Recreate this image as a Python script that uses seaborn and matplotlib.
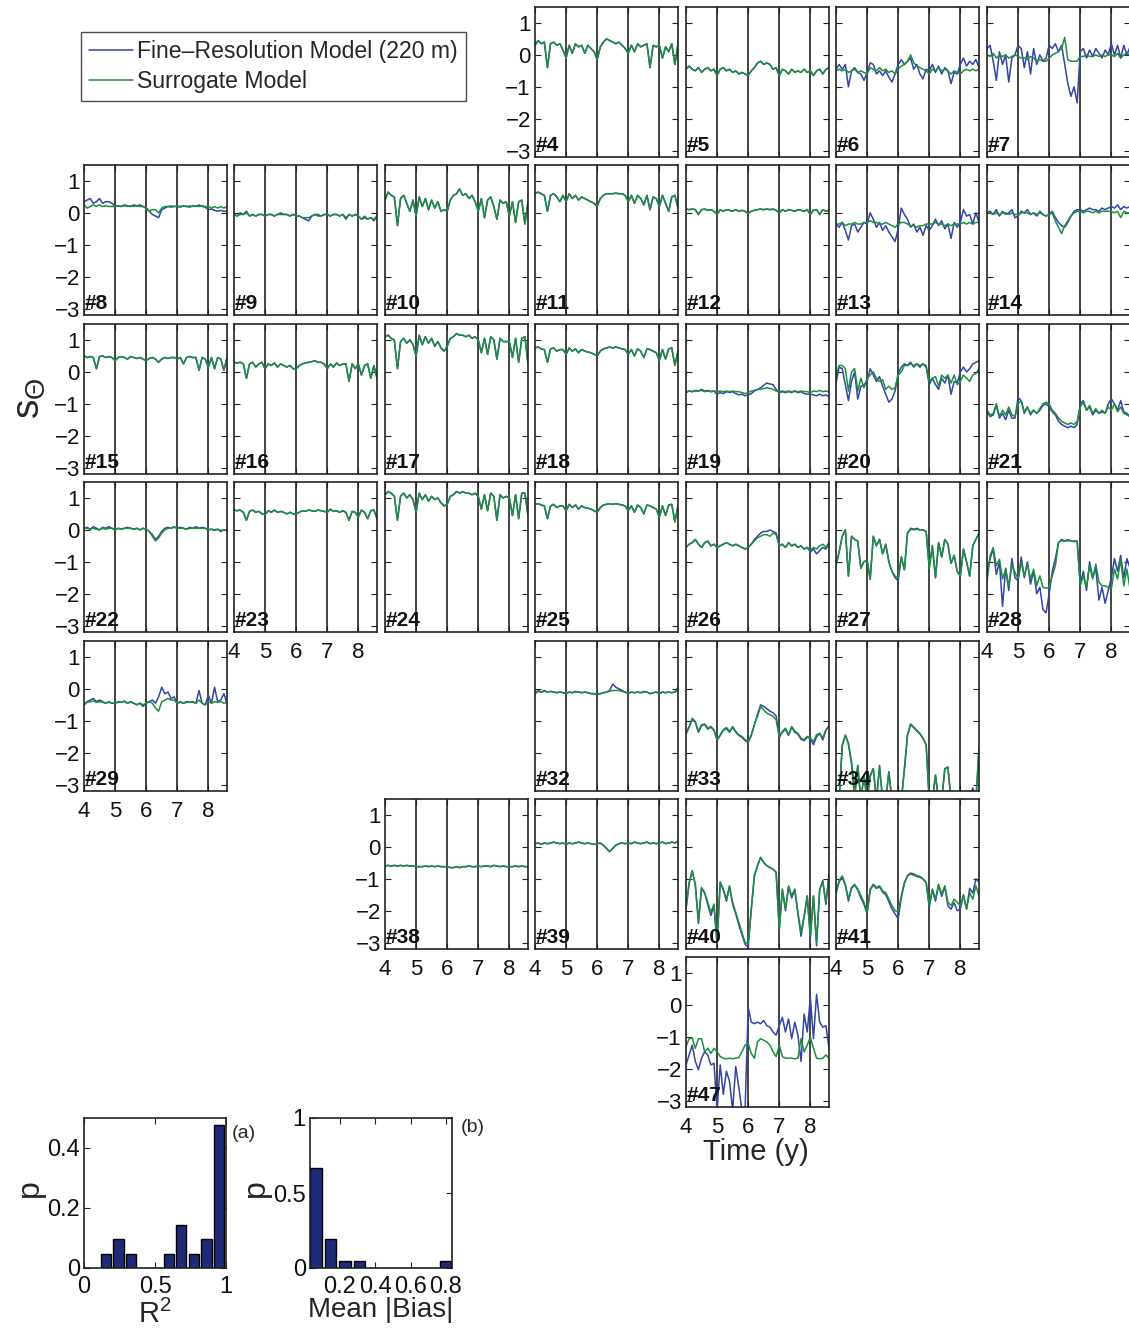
import matplotlib
matplotlib.use('Agg')
import matplotlib.pyplot as plt
import seaborn as sns
from matplotlib.lines import Line2D

# ---------------- data ----------------
T = [4.0, 4.1, 4.2, 4.3, 4.4, 4.5, 4.6, 4.7, 4.8, 4.9,
     5.0, 5.1, 5.2, 5.3, 5.4, 5.5, 5.6, 5.7, 5.8, 5.9,
     6.0, 6.1, 6.2, 6.3, 6.4, 6.5, 6.6, 6.7, 6.8, 6.9,
     7.0, 7.1, 7.2, 7.3, 7.4, 7.5, 7.6, 7.7, 7.8, 7.9,
     8.0, 8.1, 8.2, 8.3, 8.4, 8.5, 8.6]

FINE_04 = [0.30, 0.45, 0.35, 0.40, -0.40, 0.35, 0.40, 0.30, 0.35, 0.15,
           -0.10, 0.30, 0.05, 0.35, 0.25, 0.30, 0.05, 0.30, 0.20, 0.10,
           -0.15, 0.25, 0.40, 0.50, 0.45, 0.40, 0.35, 0.40, 0.30, 0.20,
           0.05, 0.30, 0.10, 0.35, 0.25, 0.30, 0.35, -0.40, 0.30, 0.25,
           0.30, -0.10, 0.25, 0.10, 0.35, -0.30, 0.35]
SURR_04 = FINE_04

FINE_05 = [-0.45, -0.35, -0.45, -0.50, -0.40, -0.55, -0.45, -0.40, -0.50, -0.45,
           -0.65, -0.45, -0.40, -0.50, -0.45, -0.55, -0.50, -0.60, -0.55, -0.60,
           -0.65, -0.50, -0.40, -0.25, -0.20, -0.30, -0.25, -0.30, -0.45, -0.40,
           -0.65, -0.45, -0.50, -0.60, -0.45, -0.55, -0.50, -0.55, -0.45, -0.55,
           -0.50, -0.65, -0.50, -0.45, -0.60, -0.45, -0.40]
SURR_05 = FINE_05

FINE_06 = [-0.45, -0.30, -0.45, -0.30, -1.00, -0.50, -0.40, -0.55, -0.60, -0.80,
           -0.55, -0.25, -0.30, -0.60, -0.50, -0.65, -0.50, -0.70, -0.85, -0.60,
           -0.30, -0.15, -0.30, -0.20, -0.10, -0.45, -0.30, -0.60, -0.75, -0.45,
           -0.50, -0.30, -0.55, -0.35, -0.60, -0.40, -0.50, -0.90, -0.55, -0.60,
           -0.30, -0.10, -0.35, -0.20, -0.30, -0.15, -0.40]
SURR_06 = [-0.50, -0.45, -0.50, -0.45, -0.55, -0.50, -0.45, -0.55, -0.50, -0.55,
           -0.60, -0.40, -0.45, -0.50, -0.40, -0.50, -0.45, -0.55, -0.50, -0.60,
           -0.45, -0.35, -0.30, -0.20, 0.00, -0.25, -0.35, -0.40, -0.45, -0.50,
           -0.60, -0.45, -0.50, -0.40, -0.50, -0.45, -0.50, -0.60, -0.50, -0.55,
           -0.60, -0.50, -0.45, -0.50, -0.45, -0.50, -0.45]

FINE_07 = [0.20, 0.30, -0.20, -0.80, 0.10, -0.30, 0.00, -0.85, -0.10, 0.00,
           0.30, 0.20, -0.40, 0.10, -0.60, 0.20, -0.30, 0.00, -0.20, -0.10,
           0.30, 0.20, 0.35, 0.10, 0.30, -0.30, -0.90, -1.30, -1.00, -1.50,
           0.10, 0.20, -0.10, 0.15, -0.05, 0.20, 0.05, -0.10, 0.15, 0.00,
           0.35, 0.00, 0.30, -0.10, 0.30, 0.00, 0.25]
SURR_07 = [0.00, -0.05, 0.05, -0.10, 0.00, -0.05, 0.00, -0.10, -0.05, 0.00,
           -0.05, -0.10, -0.10, -0.15, -0.05, -0.10, -0.20, -0.15, -0.20, -0.20,
           -0.10, 0.00, 0.05, 0.10, 0.20, 0.55, -0.15, -0.20, -0.20, -0.20,
           -0.05, -0.05, 0.00, -0.05, -0.05, 0.00, -0.05, 0.00, -0.05, 0.00,
           0.00, -0.05, 0.05, -0.10, 0.00, 0.05, 0.00]

FINE_08 = [0.35, 0.40, 0.45, 0.30, 0.35, 0.45, 0.30, 0.35, 0.35, 0.30,
           0.20, 0.22, 0.20, 0.25, 0.22, 0.20, 0.25, 0.22, 0.25, 0.20,
           0.15, 0.05, -0.05, -0.10, -0.15, 0.10, 0.15, 0.20, 0.18, 0.20,
           0.20, 0.18, 0.22, 0.20, 0.18, 0.22, 0.20, 0.25, 0.20, 0.18,
           0.10, 0.12, 0.08, 0.05, 0.08, 0.05, 0.05]
SURR_08 = [0.25, 0.15, 0.20, 0.25, 0.20, 0.25, 0.20, 0.22, 0.20, 0.20,
           0.20, 0.22, 0.20, 0.22, 0.20, 0.22, 0.20, 0.22, 0.20, 0.20,
           0.15, 0.05, 0.10, 0.10, 0.00, 0.15, 0.20, 0.20, 0.22, 0.20,
           0.22, 0.20, 0.22, 0.20, 0.22, 0.20, 0.22, 0.20, 0.22, 0.20,
           0.20, 0.15, 0.20, 0.15, 0.20, 0.15, 0.20]

FINE_09 = [-0.05, -0.10, 0.00, -0.05, 0.05, -0.10, -0.05, -0.10, -0.05, -0.05,
           -0.10, -0.05, -0.05, -0.10, -0.05, 0.00, -0.05, -0.05, -0.10, -0.05,
           -0.10, -0.10, -0.15, -0.20, -0.25, -0.10, -0.05, -0.05, -0.10, -0.05,
           -0.05, -0.10, -0.05, -0.05, -0.10, -0.05, -0.20, -0.05, -0.10, -0.05,
           -0.10, -0.20, -0.15, -0.20, -0.15, -0.25, -0.10]
SURR_09 = [-0.05, -0.10, -0.05, -0.05, 0.00, -0.10, -0.05, -0.10, -0.05, -0.05,
           -0.10, -0.05, -0.05, -0.10, -0.05, -0.05, -0.05, -0.05, -0.10, -0.05,
           -0.10, -0.10, -0.15, -0.15, -0.15, -0.10, -0.05, -0.10, -0.10, -0.05,
           -0.05, -0.10, -0.05, -0.05, -0.10, -0.05, -0.15, -0.05, -0.10, -0.05,
           -0.10, -0.20, -0.10, -0.20, -0.15, -0.20, -0.10]

FINE_10 = [0.40, 0.65, 0.55, 0.50, -0.40, 0.45, 0.55, 0.30, 0.05, 0.40,
           -0.10, 0.50, 0.20, 0.45, 0.10, 0.40, 0.15, 0.35, 0.05, 0.10,
           0.05, 0.40, 0.55, 0.60, 0.75, 0.55, 0.60, 0.45, 0.55, 0.35,
           0.05, 0.45, -0.15, 0.40, 0.50, 0.20, -0.20, 0.40, 0.30, 0.35,
           -0.10, 0.35, -0.30, 0.35, 0.40, -0.35, 0.35]
SURR_10 = FINE_10

FINE_11 = [0.60, 0.65, 0.60, 0.55, 0.05, 0.55, 0.60, 0.50, 0.35, 0.55,
           0.35, 0.60, 0.45, 0.55, 0.40, 0.50, 0.45, 0.40, 0.35, 0.30,
           0.20, 0.45, 0.55, 0.60, 0.60, 0.60, 0.62, 0.60, 0.60, 0.55,
           0.35, 0.55, 0.30, 0.55, 0.45, 0.25, 0.55, 0.10, 0.50, 0.45,
           0.20, 0.55, 0.30, 0.05, 0.50, 0.55, 0.15]
SURR_11 = FINE_11

FINE_12 = [0.12, 0.10, 0.12, 0.10, -0.05, 0.10, 0.12, 0.08, 0.10, 0.05,
           -0.05, 0.10, 0.05, 0.10, 0.08, 0.05, 0.10, 0.05, 0.08, 0.05,
           -0.02, 0.05, 0.08, 0.10, 0.12, 0.10, 0.12, 0.10, 0.12, 0.08,
           0.00, 0.10, 0.05, 0.10, 0.08, 0.05, 0.10, 0.08, 0.05, 0.10,
           -0.05, 0.08, 0.10, -0.05, 0.10, 0.05, 0.08]
SURR_12 = FINE_12

FINE_13 = [-0.35, -0.45, -0.30, -0.55, -0.85, -0.40, -0.35, -0.60, -0.45, -0.30,
           -0.35, 0.00, -0.20, -0.45, -0.30, -0.55, -0.40, -0.60, -0.75, -0.90,
           -0.50, 0.15, -0.05, -0.20, -0.45, -0.35, -0.60, -0.45, -0.70, -0.40,
           -0.55, -0.40, -0.20, -0.40, -0.25, -0.50, -0.35, -0.80, -0.30, -0.45,
           -0.30, 0.10, -0.10, -0.05, -0.35, 0.00, -0.30]
SURR_13 = [-0.35, -0.35, -0.30, -0.40, -0.35, -0.35, -0.30, -0.35, -0.35, -0.30,
           -0.30, -0.25, -0.30, -0.30, -0.35, -0.35, -0.30, -0.35, -0.40, -0.45,
           -0.35, -0.30, -0.30, -0.35, -0.40, -0.40, -0.45, -0.40, -0.40, -0.35,
           -0.35, -0.35, -0.30, -0.35, -0.35, -0.40, -0.35, -0.40, -0.35, -0.35,
           -0.35, -0.30, -0.35, -0.30, -0.35, -0.30, -0.30]

FINE_14 = [0.00, 0.05, -0.05, 0.10, -0.10, 0.05, -0.05, 0.00, 0.10, -0.15,
           -0.10, 0.05, 0.00, 0.10, -0.05, 0.00, -0.10, 0.05, -0.05, -0.10,
           -0.05, 0.05, -0.15, -0.30, -0.40, -0.45, -0.30, -0.10, 0.05, 0.10,
           0.10, 0.05, 0.10, 0.15, 0.10, 0.10, 0.05, 0.15, 0.10, 0.15,
           0.20, 0.15, 0.25, 0.10, 0.20, 0.15, 0.20]
SURR_14 = [0.00, 0.00, -0.05, 0.00, -0.05, 0.00, 0.00, -0.05, 0.00, -0.05,
           -0.05, 0.00, 0.00, 0.00, -0.05, 0.00, -0.05, 0.00, -0.05, -0.10,
           -0.05, 0.00, -0.25, -0.45, -0.65, -0.40, -0.25, -0.10, 0.00, 0.05,
           0.05, 0.00, 0.05, 0.05, 0.00, 0.05, 0.00, 0.05, 0.05, 0.05,
           0.05, 0.00, 0.05, -0.15, 0.05, 0.00, 0.00]

FINE_15 = [0.50, 0.45, 0.48, 0.45, 0.10, 0.48, 0.50, 0.45, 0.48, 0.45,
           0.35, 0.45, 0.48, 0.45, 0.40, 0.48, 0.45, 0.42, 0.45, 0.40,
           0.35, 0.42, 0.45, 0.40, 0.30, 0.40, 0.45, 0.42, 0.45, 0.45,
           0.40, 0.45, 0.25, 0.45, 0.48, 0.45, 0.45, 0.05, 0.45, 0.40,
           0.15, 0.45, 0.10, 0.45, 0.40, 0.05, 0.45]
SURR_15 = FINE_15

FINE_16 = [0.30, 0.28, 0.30, 0.25, -0.20, 0.25, 0.30, 0.15, 0.25, 0.30,
           0.10, 0.25, 0.20, 0.28, 0.15, 0.25, 0.20, 0.15, 0.20, 0.10,
           0.10, 0.20, 0.25, 0.28, 0.30, 0.32, 0.35, 0.30, 0.30, 0.25,
           0.10, 0.25, 0.15, 0.28, 0.20, 0.25, 0.25, -0.30, 0.25, 0.10,
           0.25, -0.10, 0.20, 0.25, -0.20, 0.20, -0.20]
SURR_16 = FINE_16

FINE_17 = [1.10, 1.15, 1.05, 1.00, 0.10, 0.95, 1.05, 0.90, 1.00, 0.85,
           0.50, 1.15, 0.85, 1.10, 0.90, 1.05, 0.80, 0.95, 0.75, 0.65,
           0.80, 1.05, 1.10, 1.20, 1.15, 1.15, 1.10, 1.15, 1.05, 1.10,
           1.00, 0.60, 1.05, 0.55, 1.10, 1.00, 0.40, 1.05, 0.95, 0.95,
           0.95, 0.45, 1.05, 0.30, 1.05, 1.10, 0.25]
SURR_17 = FINE_17

FINE_18 = [0.75, 0.78, 0.72, 0.70, 0.30, 0.72, 0.75, 0.65, 0.70, 0.70,
           0.55, 0.75, 0.65, 0.72, 0.60, 0.70, 0.65, 0.62, 0.60, 0.55,
           0.50, 0.65, 0.72, 0.75, 0.78, 0.75, 0.78, 0.75, 0.72, 0.70,
           0.55, 0.70, 0.50, 0.72, 0.65, 0.45, 0.72, 0.70, 0.65, 0.60,
           0.35, 0.70, 0.40, 0.72, 0.75, 0.20, 0.65]
SURR_18 = FINE_18

FINE_19 = [-0.65, -0.60, -0.62, -0.58, -0.60, -0.55, -0.60, -0.58, -0.62, -0.60,
           -0.70, -0.65, -0.68, -0.62, -0.65, -0.62, -0.68, -0.72, -0.70, -0.75,
           -0.72, -0.68, -0.60, -0.55, -0.50, -0.42, -0.35, -0.38, -0.40, -0.55,
           -0.65, -0.62, -0.65, -0.62, -0.65, -0.60, -0.65, -0.62, -0.68, -0.70,
           -0.70, -0.72, -0.75, -0.70, -0.75, -0.72, -0.78]
SURR_19 = [-0.62, -0.60, -0.62, -0.60, -0.60, -0.58, -0.62, -0.60, -0.62, -0.60,
           -0.62, -0.60, -0.62, -0.60, -0.62, -0.60, -0.62, -0.62, -0.65, -0.68,
           -0.65, -0.60, -0.58, -0.55, -0.55, -0.52, -0.50, -0.52, -0.55, -0.60,
           -0.62, -0.60, -0.62, -0.60, -0.62, -0.60, -0.62, -0.60, -0.62, -0.62,
           -0.65, -0.60, -0.62, -0.58, -0.62, -0.60, -0.62]

FINE_20 = [-0.35, 0.15, 0.10, -0.40, -0.90, -0.30, 0.00, -0.85, -0.45, -0.40,
           -0.30, 0.10, -0.10, -0.30, -0.15, -0.45, -0.70, -0.95, -0.85, -0.60,
           -0.05, 0.15, 0.25, 0.20, 0.30, 0.15, 0.25, 0.15, 0.25, 0.15,
           -0.40, -0.20, -0.40, -0.55, -0.20, -0.35, -0.10, -0.70, -0.30, -0.35,
           0.00, 0.15, 0.00, 0.10, 0.25, 0.30, 0.35]
SURR_20 = [-0.10, 0.20, 0.20, 0.10, -0.60, 0.00, 0.10, -0.60, -0.20, -0.50,
           -0.20, -0.10, 0.00, -0.20, -0.30, -0.25, -0.55, -0.45, -0.55, -0.50,
           -0.10, 0.00, 0.20, 0.20, 0.25, 0.20, 0.25, 0.20, 0.25, 0.20,
           -0.30, -0.20, -0.15, -0.45, -0.10, -0.20, -0.10, -0.35, -0.10, -0.40,
           -0.30, -0.10, -0.20, -0.30, -0.10, -0.05, 0.10]

FINE_21 = [-1.25, -1.40, -1.35, -1.05, -1.45, -1.30, -1.50, -1.20, -1.45, -1.45,
           -0.80, -0.90, -1.30, -1.10, -1.35, -1.20, -1.30, -1.20, -1.05, -1.00,
           -1.10, -1.25, -1.35, -1.55, -1.65, -1.70, -1.75, -1.70, -1.75, -1.65,
           -1.00, -0.90, -1.20, -1.10, -1.35, -1.20, -1.30, -1.25, -1.30, -1.00,
           -0.85, -1.00, -1.20, -0.90, -1.25, -1.30, -1.40]
SURR_21 = [-1.20, -1.35, -1.30, -1.00, -1.40, -1.20, -1.35, -1.10, -1.35, -1.40,
           -1.00, -0.90, -1.25, -1.10, -1.30, -1.20, -1.30, -1.15, -1.00, -0.95,
           -1.00, -1.20, -1.30, -1.45, -1.55, -1.60, -1.65, -1.60, -1.65, -1.55,
           -1.10, -0.95, -1.20, -1.05, -1.30, -1.15, -1.30, -1.20, -1.30, -1.10,
           -1.20, -1.00, -1.25, -1.10, -1.30, -1.35, -1.40]

FINE_22 = [0.05, 0.08, 0.02, 0.10, 0.05, 0.00, 0.08, 0.05, 0.10, 0.05,
           0.00, 0.05, 0.02, 0.05, 0.08, 0.05, 0.02, 0.05, 0.00, 0.05,
           0.02, -0.05, -0.15, -0.30, -0.20, -0.05, 0.05, 0.08, 0.05, 0.10,
           0.05, 0.08, 0.05, 0.02, 0.08, 0.05, 0.10, 0.05, 0.08, 0.05,
           0.00, 0.02, -0.02, 0.02, -0.05, 0.00, -0.02]
SURR_22 = [0.05, 0.05, 0.02, 0.05, 0.02, 0.00, 0.05, 0.02, 0.05, 0.05,
           0.00, 0.05, 0.02, 0.05, 0.05, 0.05, 0.02, 0.05, 0.00, 0.05,
           0.02, -0.05, -0.20, -0.35, -0.25, -0.10, 0.00, 0.05, 0.05, 0.08,
           0.05, 0.05, 0.05, 0.02, 0.05, 0.05, 0.05, 0.05, 0.05, 0.05,
           0.00, 0.02, 0.00, 0.02, -0.02, 0.00, 0.00]

FINE_23 = [0.62, 0.60, 0.62, 0.55, 0.30, 0.58, 0.62, 0.55, 0.58, 0.50,
           0.48, 0.60, 0.55, 0.62, 0.55, 0.58, 0.55, 0.50, 0.55, 0.50,
           0.50, 0.55, 0.60, 0.58, 0.62, 0.60, 0.58, 0.62, 0.60, 0.58,
           0.55, 0.65, 0.58, 0.60, 0.55, 0.60, 0.55, 0.30, 0.58, 0.55,
           0.40, 0.62, 0.55, 0.35, 0.60, 0.62, 0.35]
SURR_23 = FINE_23

FINE_24 = [1.10, 1.20, 1.15, 1.05, 0.30, 1.05, 1.15, 1.00, 1.10, 0.95,
           0.55, 1.15, 0.95, 1.10, 0.90, 1.05, 0.95, 1.00, 0.85, 0.75,
           0.80, 1.05, 1.10, 1.20, 1.15, 1.20, 1.15, 1.15, 1.10, 1.15,
           1.05, 0.65, 1.10, 0.60, 1.15, 1.05, 0.30, 1.10, 1.00, 1.05,
           1.00, 0.45, 1.10, 0.35, 1.15, 1.15, 0.45]
SURR_24 = FINE_24

FINE_25 = [0.80, 0.82, 0.78, 0.75, 0.35, 0.75, 0.80, 0.70, 0.75, 0.75,
           0.60, 0.80, 0.70, 0.78, 0.65, 0.75, 0.70, 0.68, 0.65, 0.60,
           0.55, 0.70, 0.78, 0.80, 0.82, 0.80, 0.82, 0.80, 0.78, 0.75,
           0.60, 0.75, 0.55, 0.78, 0.70, 0.50, 0.78, 0.75, 0.70, 0.65,
           0.40, 0.75, 0.45, 0.78, 0.80, 0.25, 0.75]
SURR_25 = FINE_25

FINE_26 = [-0.55, -0.45, -0.40, -0.30, -0.45, -0.55, -0.40, -0.35, -0.50, -0.45,
           -0.55, -0.50, -0.45, -0.40, -0.45, -0.50, -0.45, -0.50, -0.55, -0.60,
           -0.55, -0.45, -0.30, -0.20, -0.10, -0.05, -0.05, 0.00, -0.05, -0.10,
           -0.50, -0.45, -0.55, -0.40, -0.50, -0.45, -0.55, -0.50, -0.60, -0.55,
           -0.70, -0.60, -0.75, -0.65, -0.55, -0.60, -0.45]
SURR_26 = [-0.55, -0.45, -0.40, -0.30, -0.45, -0.55, -0.40, -0.35, -0.50, -0.45,
           -0.55, -0.50, -0.45, -0.40, -0.45, -0.50, -0.45, -0.50, -0.55, -0.60,
           -0.55, -0.45, -0.35, -0.25, -0.20, -0.15, -0.15, -0.20, -0.10, -0.15,
           -0.50, -0.45, -0.55, -0.40, -0.50, -0.45, -0.55, -0.50, -0.60, -0.55,
           -0.65, -0.55, -0.60, -0.50, -0.45, -0.55, -0.40]

FINE_27 = [-1.10, -0.70, -0.20, 0.00, -1.45, -0.20, -0.30, -0.35, -1.20, -1.00,
           -0.95, -1.55, -0.20, -0.50, -0.30, -0.75, -0.45, -1.00, -1.30, -1.50,
           -1.60, -0.85, -1.25, -0.10, 0.05, 0.02, 0.05, 0.00, 0.00, -0.05,
           -1.20, -0.50, -1.50, -0.40, -0.85, -0.30, -0.45, -1.05, -0.80, -1.30,
           -1.45, -0.60, -1.00, -1.45, -0.50, -0.30, -0.10]
SURR_27 = [-1.10, -0.70, -0.20, 0.00, -1.45, -0.20, -0.30, -0.35, -1.20, -1.00,
           -0.95, -1.55, -0.20, -0.50, -0.30, -0.75, -0.45, -1.00, -1.30, -1.45,
           -1.50, -0.85, -1.25, -0.10, 0.02, 0.00, 0.02, 0.00, 0.00, -0.05,
           -1.20, -0.50, -1.50, -0.40, -0.85, -0.30, -0.45, -1.05, -0.80, -1.30,
           -1.45, -0.60, -1.00, -1.45, -0.50, -0.30, -0.10]

FINE_28 = [-1.30, -0.90, -0.60, -1.40, -1.00, -2.40, -1.20, -1.90, -0.90, -1.50,
           -1.60, -0.85, -1.50, -1.00, -1.70, -1.30, -2.00, -1.80, -2.50, -2.60,
           -2.00, -1.30, -0.90, -0.40, -0.30, -0.35, -0.30, -0.35, -0.35, -0.35,
           -1.70, -1.30, -1.90, -1.00, -1.50, -1.20, -2.20, -1.80, -2.30, -1.90,
           -1.50, -0.90, -1.30, -0.80, -1.50, -0.90, -1.20]
SURR_28 = [-1.64, -0.81, -0.55, -1.12, -0.92, -1.54, -1.23, -1.75, -1.12, -1.33,
           -1.54, -1.02, -1.44, -1.07, -1.54, -1.23, -1.75, -1.44, -1.80, -1.83,
           -1.80, -1.44, -1.12, -0.39, -0.34, -0.36, -0.34, -0.35, -0.37, -0.36,
           -1.75, -1.44, -1.80, -1.12, -1.54, -1.07, -1.64, -1.75, -1.75, -1.80,
           -1.85, -1.23, -1.54, -0.92, -1.75, -1.23, -1.85]

FINE_29 = [-0.50, -0.40, -0.35, -0.30, -0.40, -0.35, -0.40, -0.45, -0.40, -0.45,
           -0.45, -0.40, -0.42, -0.38, -0.45, -0.40, -0.45, -0.50, -0.45, -0.55,
           -0.45, -0.40, -0.35, -0.45, -0.25, 0.05, -0.15, -0.10, -0.30, -0.25,
           -0.45, -0.40, -0.45, -0.40, -0.42, -0.40, -0.45, -0.05, -0.45, -0.50,
           -0.20, -0.45, 0.05, -0.40, -0.35, -0.15, -0.45]
SURR_29 = [-0.50, -0.42, -0.40, -0.38, -0.42, -0.40, -0.42, -0.45, -0.42, -0.45,
           -0.45, -0.42, -0.42, -0.40, -0.45, -0.42, -0.45, -0.50, -0.45, -0.50,
           -0.45, -0.40, -0.45, -0.60, -0.70, -0.40, -0.35, -0.30, -0.35, -0.35,
           -0.45, -0.42, -0.45, -0.42, -0.42, -0.42, -0.45, -0.35, -0.45, -0.50,
           -0.40, -0.45, -0.40, -0.42, -0.40, -0.45, -0.42]

FINE_32 = [-0.15, -0.05, -0.10, -0.05, -0.10, -0.08, -0.10, -0.12, -0.10, -0.12,
           -0.15, -0.10, -0.12, -0.08, -0.10, -0.12, -0.10, -0.12, -0.15, -0.15,
           -0.18, -0.15, -0.12, -0.10, -0.05, 0.15, 0.05, 0.00, -0.05, -0.10,
           -0.15, -0.10, -0.12, -0.10, -0.12, -0.08, -0.10, -0.15, -0.12, -0.10,
           -0.15, -0.10, -0.12, -0.10, -0.12, -0.10, 0.05]
SURR_32 = [-0.15, -0.08, -0.10, -0.08, -0.10, -0.08, -0.10, -0.12, -0.10, -0.12,
           -0.15, -0.10, -0.12, -0.10, -0.10, -0.12, -0.10, -0.12, -0.15, -0.15,
           -0.15, -0.15, -0.12, -0.10, -0.08, -0.05, -0.05, -0.05, -0.08, -0.10,
           -0.15, -0.10, -0.12, -0.10, -0.12, -0.10, -0.10, -0.15, -0.12, -0.10,
           -0.15, -0.10, -0.12, -0.10, -0.12, -0.10, -0.05]

FINE_33 = [-1.42, -1.20, -0.95, -1.05, -1.36, -1.15, -1.12, -1.26, -1.20, -1.30,
           -1.62, -1.46, -1.30, -1.24, -1.36, -1.20, -1.36, -1.46, -1.52, -1.62,
           -1.68, -1.46, -1.12, -0.80, -0.50, -0.55, -0.62, -0.70, -0.75, -0.85,
           -1.52, -1.36, -1.26, -1.46, -1.20, -1.36, -1.42, -1.58, -1.62, -1.52,
           -1.55, -1.75, -1.50, -1.40, -1.60, -1.30, -1.15]
SURR_33 = [-1.39, -1.18, -0.92, -1.02, -1.33, -1.12, -1.10, -1.23, -1.18, -1.28,
           -1.59, -1.44, -1.28, -1.21, -1.33, -1.18, -1.33, -1.44, -1.49, -1.59,
           -1.65, -1.44, -1.12, -0.86, -0.55, -0.66, -0.76, -0.81, -0.86, -0.97,
           -1.49, -1.33, -1.23, -1.44, -1.18, -1.33, -1.39, -1.54, -1.59, -1.49,
           -1.54, -1.65, -1.44, -1.39, -1.54, -1.28, -1.18]

FINE_34 = [-3.50, -3.50, -1.80, -1.45, -1.70, -2.30, -3.10, -2.40, -3.50, -2.70,
           -3.50, -2.70, -2.50, -3.50, -2.40, -3.50, -3.50, -2.60, -3.50, -3.50,
           -3.50, -3.50, -2.50, -1.45, -1.10, -1.20, -1.30, -1.40, -1.55, -1.75,
           -3.50, -3.50, -2.70, -3.50, -3.50, -2.50, -2.45, -3.50, -3.50, -3.50,
           -3.50, -3.50, -3.50, -3.50, -3.10, -3.50, -1.85]
SURR_34 = [-3.50, -3.50, -1.75, -1.45, -1.75, -2.35, -3.50, -2.40, -3.50, -2.70,
           -3.50, -2.75, -2.50, -3.50, -2.45, -3.50, -3.50, -2.60, -3.50, -3.50,
           -3.50, -3.50, -2.55, -1.45, -1.12, -1.22, -1.32, -1.42, -1.55, -1.75,
           -3.50, -3.50, -2.70, -3.50, -3.50, -2.50, -2.45, -3.50, -3.50, -3.50,
           -3.50, -3.50, -3.50, -3.50, -3.50, -3.50, -1.90]

FINE_38 = [-0.60, -0.58, -0.60, -0.58, -0.60, -0.58, -0.60, -0.58, -0.60, -0.60,
           -0.62, -0.62, -0.62, -0.60, -0.62, -0.60, -0.62, -0.60, -0.62, -0.62,
           -0.62, -0.65, -0.65, -0.62, -0.65, -0.62, -0.62, -0.60, -0.62, -0.62,
           -0.60, -0.62, -0.60, -0.60, -0.62, -0.58, -0.60, -0.62, -0.60, -0.62,
           -0.62, -0.62, -0.60, -0.62, -0.60, -0.62, -0.62]
SURR_38 = FINE_38

FINE_39 = [0.10, 0.12, 0.08, 0.12, 0.10, 0.12, 0.15, 0.12, 0.10, 0.12,
           0.08, 0.12, 0.10, 0.12, 0.15, 0.12, 0.10, 0.12, 0.10, 0.08,
           0.10, 0.12, 0.05, -0.05, -0.15, -0.05, 0.05, 0.10, 0.12, 0.10,
           0.12, 0.10, 0.15, 0.12, 0.10, 0.12, 0.15, 0.10, 0.12, 0.10,
           0.12, 0.15, 0.10, 0.12, 0.15, 0.12, 0.18]
SURR_39 = FINE_39

FINE_40 = [-1.95, -1.15, -0.75, -1.20, -2.40, -1.30, -1.45, -1.80, -2.15, -1.85,
           -3.05, -1.10, -1.35, -1.70, -1.25, -1.80, -2.10, -2.45, -2.75, -3.05,
           -3.15, -1.95, -0.90, -0.59, -0.33, -0.49, -0.59, -0.65, -0.70, -0.80,
           -2.60, -1.35, -2.00, -1.25, -1.60, -1.35, -2.10, -2.80, -2.20, -1.55,
           -2.85, -1.55, -3.10, -1.35, -1.05, -1.80, -0.85]
SURR_40 = [-1.95, -1.11, -0.75, -1.17, -2.31, -1.27, -1.43, -1.74, -2.05, -1.79,
           -2.99, -1.11, -1.32, -1.64, -1.22, -1.74, -2.05, -2.37, -2.68, -2.99,
           -3.04, -1.95, -0.91, -0.59, -0.33, -0.49, -0.59, -0.65, -0.70, -0.80,
           -2.57, -1.32, -1.95, -1.22, -1.53, -1.32, -2.05, -2.68, -2.16, -1.53,
           -2.78, -1.53, -2.99, -1.32, -1.11, -1.74, -0.91]

FINE_41 = [-1.45, -1.10, -0.95, -1.20, -1.70, -1.30, -1.20, -1.35, -1.60, -1.80,
           -2.10, -1.35, -1.20, -1.30, -1.25, -1.42, -1.50, -1.72, -1.95, -2.10,
           -2.25, -1.60, -1.15, -0.90, -0.82, -0.85, -0.90, -0.93, -1.00, -1.12,
           -1.90, -1.35, -1.70, -1.20, -1.55, -1.25, -1.85, -1.95, -1.75, -2.00,
           -1.95, -1.50, -1.95, -1.30, -1.45, -1.00, -1.10]
SURR_41 = [-1.43, -1.06, -0.91, -1.17, -1.64, -1.27, -1.17, -1.32, -1.53, -1.74,
           -2.05, -1.32, -1.17, -1.27, -1.22, -1.38, -1.43, -1.64, -1.84, -2.00,
           -2.05, -1.53, -1.11, -0.91, -0.85, -0.89, -0.93, -0.96, -1.01, -1.11,
           -1.84, -1.32, -1.64, -1.17, -1.48, -1.22, -1.74, -1.84, -1.64, -1.74,
           -1.84, -1.53, -1.95, -1.43, -1.64, -1.22, -1.53]

FINE_47 = [-1.88, -1.57, -1.26, -1.77, -2.03, -1.67, -1.47, -1.57, -1.88, -1.83,
           -3.30, -1.88, -2.80, -2.08, -2.39, -3.30, -1.93, -2.59, -3.30, -3.30,
           -0.08, -0.54, -0.59, -0.54, -0.59, -0.49, -0.65, -0.70, -0.85, -0.95,
           -0.65, -0.39, -0.85, -0.44, -1.06, -0.54, -0.95, -1.77, -0.29, -0.85,
           0.23, -1.06, 0.33, -0.54, -0.70, -0.65, -1.36]
SURR_47 = [-1.31, -1.06, -1.04, -1.36, -1.06, -1.06, -1.47, -1.36, -1.52, -1.36,
           -1.47, -1.62, -1.67, -1.69, -1.67, -1.69, -1.67, -1.65, -1.47, -1.26,
           -1.21, -1.52, -1.67, -1.16, -1.06, -1.11, -1.16, -1.26, -1.47, -1.62,
           -1.26, -1.62, -1.67, -1.67, -1.67, -1.69, -1.67, -1.06, -1.47, -1.26,
           -1.01, -1.36, -1.67, -1.69, -1.67, -1.57, -1.67]

# histogram panels
R2_CENTERS = [0.154, 0.243, 0.331, 0.420, 0.508, 0.597, 0.686, 0.774, 0.863, 0.951]
R2_P = [1/21, 2/21, 1/21, 0, 0, 1/21, 3/21, 1/21, 2/21, 10/21]
BIAS_CENTERS = [0.065, 0.147, 0.228, 0.310, 0.391, 0.473, 0.554, 0.636, 0.717, 0.799]
BIAS_P = [14/21, 4/21, 1/21, 1/21, 0, 0, 0, 0, 0, 1/21]

PANELS = {
    4: (FINE_04, SURR_04), 5: (FINE_05, SURR_05), 6: (FINE_06, SURR_06), 7: (FINE_07, SURR_07),
    8: (FINE_08, SURR_08), 9: (FINE_09, SURR_09), 10: (FINE_10, SURR_10), 11: (FINE_11, SURR_11),
    12: (FINE_12, SURR_12), 13: (FINE_13, SURR_13), 14: (FINE_14, SURR_14),
    15: (FINE_15, SURR_15), 16: (FINE_16, SURR_16), 17: (FINE_17, SURR_17), 18: (FINE_18, SURR_18),
    19: (FINE_19, SURR_19), 20: (FINE_20, SURR_20), 21: (FINE_21, SURR_21),
    22: (FINE_22, SURR_22), 23: (FINE_23, SURR_23), 24: (FINE_24, SURR_24), 25: (FINE_25, SURR_25),
    26: (FINE_26, SURR_26), 27: (FINE_27, SURR_27), 28: (FINE_28, SURR_28),
    29: (FINE_29, SURR_29), 32: (FINE_32, SURR_32), 33: (FINE_33, SURR_33), 34: (FINE_34, SURR_34),
    38: (FINE_38, SURR_38), 39: (FINE_39, SURR_39), 40: (FINE_40, SURR_40), 41: (FINE_41, SURR_41),
    47: (FINE_47, SURR_47),
}

# ---------------- layout ----------------
POS = {4: (0, 3), 5: (0, 4), 6: (0, 5), 7: (0, 6),
       29: (4, 0), 32: (4, 3), 33: (4, 4), 34: (4, 5),
       38: (5, 2), 39: (5, 3), 40: (5, 4), 41: (5, 5), 47: (6, 4)}
for k in range(7):
    POS[8 + k] = (1, k)
    POS[15 + k] = (2, k)
    POS[22 + k] = (3, k)
YLAB = {4, 8, 15, 22, 29, 38, 47}
XLAB = {23, 28, 29, 38, 39, 41, 47}

COL_LEFT = [84, 234, 385, 535, 686, 836, 987]
ROW_TOP = [7, 165, 324, 482, 641, 799, 957]
PW, PH = 143, 150
W, H = 1129, 1331

BLUE = '#3444a6'
GREEN = '#1d8e3c'
BAR = '#1e2a78'

sns.set_theme(style='white')
plt.rcParams['font.family'] = ['Liberation Sans', 'DejaVu Sans']
plt.rcParams['mathtext.fontset'] = 'custom'
plt.rcParams['mathtext.rm'] = 'Liberation Sans'
plt.rcParams['mathtext.it'] = 'Liberation Sans'
plt.rcParams['axes.unicode_minus'] = True

fig = plt.figure(figsize=(W / 100, H / 100), dpi=100)
fig.patch.set_facecolor('white')


def px_axes(x0, y0, w, h):
    return fig.add_axes([x0 / W, 1 - (y0 + h) / H, w / W, h / H])


def style_box(ax):
    for s in ax.spines.values():
        s.set_visible(True)
        s.set_color('#222222')
        s.set_linewidth(1.2)


for pid, (fine, surr) in PANELS.items():
    assert len(fine) == len(T) and len(surr) == len(T), pid
    r, c = POS[pid]
    ax = px_axes(COL_LEFT[c], ROW_TOP[r], PW, PH)
    style_box(ax)
    sns.lineplot(x=T, y=fine, ax=ax, color=BLUE, lw=1.1, estimator=None, sort=False, legend=False)
    sns.lineplot(x=T, y=surr, ax=ax, color=GREEN, lw=1.1, estimator=None, sort=False, legend=False)
    for v in [5, 6, 7, 8]:
        ax.axvline(v, color='#111111', lw=1.1, zorder=0.5)
    ax.set_xlim(4, 8.6)
    ax.set_ylim(-3.2, 1.5)
    ax.set_xticks([4, 5, 6, 7, 8])
    ax.set_yticks([-3, -2, -1, 0, 1])
    ax.tick_params(axis='both', direction='in', length=4, width=0.8, colors='#222222',
                   top=True, right=True, bottom=True, left=True, labelsize=16, labelcolor='#111111')
    ax.tick_params(axis='x', pad=7)
    ax.tick_params(axis='y', pad=3)
    ax.set_xlabel('')
    ax.set_ylabel('')
    if pid not in YLAB:
        ax.set_yticklabels([])
    if pid not in XLAB:
        ax.set_xticklabels([])
    ax.text(0.006, 0.012, f'#{pid}', transform=ax.transAxes, fontsize=15,
            fontweight='bold', ha='left', va='bottom', color='#111111')

# legend
handles = [Line2D([0], [0], color=BLUE, lw=1.1), Line2D([0], [0], color=GREEN, lw=1.1)]
leg = fig.legend(handles, ['Fine\u2013Resolution Model (220 m)', 'Surrogate Model'],
                 loc='upper left', bbox_to_anchor=(81 / W, 1 - 32 / H), fontsize=16.6,
                 frameon=True, fancybox=False, handlelength=1.9, handletextpad=0.2,
                 borderpad=0.35, labelspacing=0.3, borderaxespad=0)
leg.get_frame().set_edgecolor('#222222')
leg.get_frame().set_linewidth(1.0)

# axis labels
fig.text(30 / W, 1 - 398 / H, r'$s_{\Theta}$', rotation=90, fontsize=28, ha='center', va='center')
fig.text(756 / W, 1 - 1152 / H, 'Time (y)', fontsize=21, ha='center', va='center')


def hist_panel(x0, centers, heights, ylim, yticks, xlim, xticks, xticklabels):
    ax = px_axes(x0, 1118, 142, 150)
    style_box(ax)
    d = centers[1] - centers[0]
    edges = [centers[0] - d / 2] + [cc + d / 2 for cc in centers]
    sns.histplot(x=centers, weights=heights, bins=edges, shrink=0.8, color=BAR,
                 edgecolor='black', linewidth=1.0, alpha=1, ax=ax)
    ax.set_xlim(*xlim)
    ax.set_ylim(*ylim)
    ax.set_xticks(xticks)
    ax.set_xticklabels(xticklabels)
    ax.set_yticks(yticks)
    ax.set_yticklabels([f'{v:g}' for v in yticks])
    ax.tick_params(axis='both', direction='in', length=4, width=0.8, top=True, right=True,
                   bottom=True, left=True, labelsize=17, colors='#222222', labelcolor='#111111')
    ax.tick_params(axis='x', pad=6)
    ax.tick_params(axis='y', pad=3)
    ax.set_xlabel('')
    ax.set_ylabel('')
    return ax


hist_panel(84, R2_CENTERS, R2_P, (0, 0.5), [0, 0.2, 0.4], (0, 1), [0, 0.5, 1], ['0', '0.5', '1'])
hist_panel(310, BIAS_CENTERS, BIAS_P, (0, 1.0), [0, 0.5, 1], (0.03, 0.835),
           [0.2, 0.4, 0.6, 0.8], ['0.2', '0.4', '0.6', '0.8'])

fig.text(30 / W, 1 - 1188 / H, 'p', rotation=90, fontsize=23, ha='center', va='center')
fig.text(256 / W, 1 - 1188 / H, 'p', rotation=90, fontsize=23, ha='center', va='center')
fig.text(155 / W, 1 - 1314 / H, r'R$^2$', fontsize=21, ha='center', va='center')
fig.text(381 / W, 1 - 1310 / H, 'Mean |Bias|', fontsize=20, ha='center', va='center')
fig.text(232 / W, 1 - 1133 / H, '(a)', fontsize=14, ha='left', va='center')
fig.text(461 / W, 1 - 1127 / H, '(b)', fontsize=14, ha='left', va='center')

fig.savefig('out.png', dpi=100, facecolor='white')
